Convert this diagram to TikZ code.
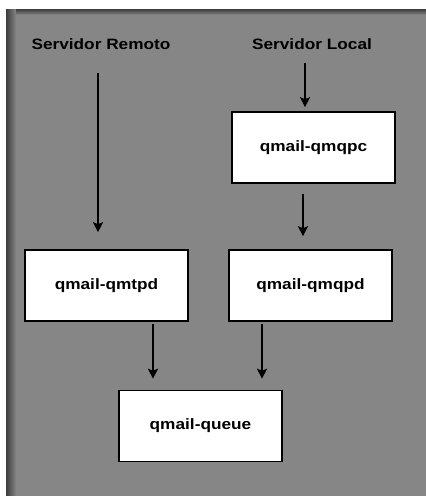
\documentclass[tikz,border=0pt]{standalone}
\usepackage{fontspec}
\setmainfont{Liberation Sans}[FakeStretch=1.15]
\usetikzlibrary{arrows.meta}
\definecolor{bg}{RGB}{134,134,134}
\definecolor{bgdark}{RGB}{60,60,60}
\begin{document}
\begin{tikzpicture}[x=1pt,y=-1pt,
  procbox/.style={draw=black,line width=1.6pt,fill=white,minimum width=163pt,minimum height=71pt,inner sep=0pt,
    font=\fontsize{15}{18}\selectfont\bfseries},
  lbl/.style={font=\fontsize{15}{18}\selectfont\bfseries,inner sep=0pt},
  arr/.style={line width=1.3pt,-{Stealth[length=10pt,width=10pt,inset=2pt]}}]
\useasboundingbox (0,0) rectangle (426,496);
\fill[white] (0,0) rectangle (426,496);
\fill[bg] (6,9) rectangle (426,496);
\shade[left color=bgdark,right color=bg] (6,9) rectangle (16,496);
\shade[top color=bgdark,bottom color=bg] (16,9) rectangle (426,15);
% labels
\node[lbl] (rem) at (101,44) {Servidor Remoto};
\node[lbl] (loc) at (312,44) {Servidor Local};
% boxes
\node[procbox] (qmqpc) at (313.5,147.5) {qmail-qmqpc};
\node[procbox] (qmtpd) at (106.5,285.5) {qmail-qmtpd};
\node[procbox] (qmqpd) at (310.5,285.5) {qmail-qmqpd};
\node[procbox] (queue) at (200.5,426) {qmail-queue};
% arrow x positions
\coordinate (xr) at (98,0);
\coordinate (xl) at (305,0);
\coordinate (xm) at (303,0);
\coordinate (xa) at (153,0);
\coordinate (xb) at (262,0);
\coordinate (rs) at (98,73);
\coordinate (ls) at (305,63);
% arrows
\draw[arr,shorten >=17pt] (rs) -- (qmtpd.north -| xr);
\draw[arr,shorten >=4pt] (ls) -- (qmqpc.north -| xl);
\draw[arr,shorten <=10pt,shorten >=13pt] (qmqpc.south -| xm) -- (qmqpd.north -| xm);
\draw[arr,shorten <=2pt,shorten >=11pt] (qmtpd.south -| xa) -- (queue.north -| xa);
\draw[arr,shorten <=2pt,shorten >=11pt] (qmqpd.south -| xb) -- (queue.north -| xb);
\end{tikzpicture}
\end{document}
